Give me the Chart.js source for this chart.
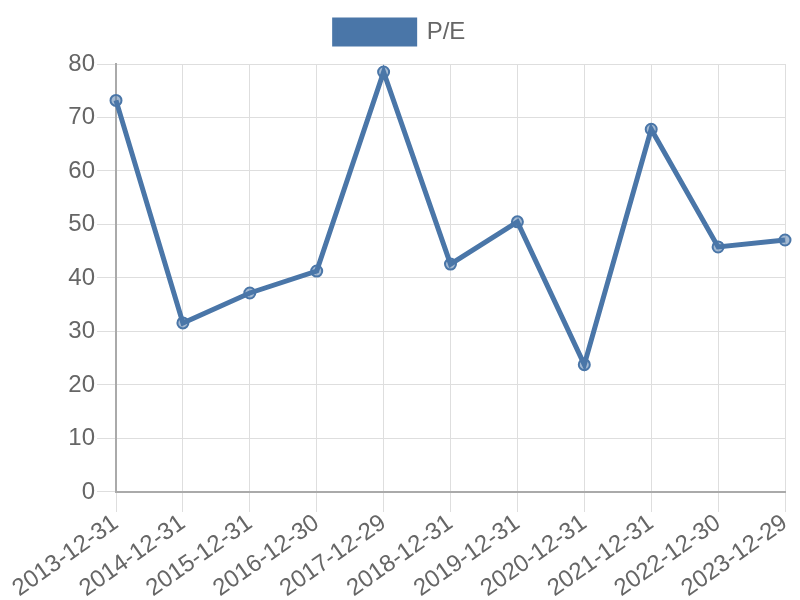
<!DOCTYPE html>
<html>
<head>
<meta charset="utf-8">
<script src="https://cdn.jsdelivr.net/npm/chart.js@4"></script>
<style>
  html, body { margin: 0; padding: 0; background: #fff; }
  #wrap { width: 800px; height: 600px; }
</style>
</head>
<body>
<div id="wrap"><canvas id="peChart"></canvas></div>
<script>
// Dados do gráfico
const labels = ['2013-12-31', '2014-12-31', '2015-12-31', '2016-12-30', '2017-12-29', '2018-12-31',
                '2019-12-31', '2020-12-31', '2021-12-31', '2022-12-30', '2023-12-29'];
const peValues = [73.2, 31.6, 37.2, 41.3, 78.5, 42.6, 50.5, 23.8, 67.8, 45.8, 47.1];
const yTicks = [0, 10, 20, 30, 40, 50, 60, 70, 80];

Chart.defaults.font.family = '"Liberation Sans", Arial, sans-serif';
Chart.defaults.color = '#666';

// Espaço extra abaixo da legenda
const legendGap = {
    id: 'legendGap',
    beforeInit(chart) {
        const origFit = chart.legend.fit;
        chart.legend.fit = function () {
            origFit.bind(chart.legend)();
            this.height += 10;
        };
    }
};

const ctx = document.getElementById('peChart').getContext('2d');
new Chart(ctx, {
    type: 'line',
    data: {
        labels: labels,
        datasets: [{
            label: 'P/E',
            data: peValues,
            borderColor: '#4a76a8',
            backgroundColor: '#4a76a8',
            borderWidth: 5,
            tension: 0,
            fill: false,
            pointRadius: 5.5,
            pointBorderWidth: 2,
            pointBackgroundColor: 'rgba(74, 118, 168, 0.5)',
            pointBorderColor: '#4a76a8'
        }]
    },
    options: {
        responsive: true,
        maintainAspectRatio: false,
        animation: false,
        layout: { padding: { left: 15, right: 15, top: 10, bottom: 0 } },
        plugins: {
            legend: {
                labels: {
                    boxWidth: 80,
                    boxHeight: 24,
                    font: { size: 24 },
                    color: '#666'
                }
            },
            tooltip: { enabled: false }
        },
        scales: {
            x: {
                grid: { color: '#dedede', lineWidth: 1, tickLength: 20 },
                border: { color: '#aaa', width: 2 },
                ticks: { font: { size: 24 }, maxRotation: 35, minRotation: 35, color: '#666', padding: -3 }
            },
            y: {
                min: 0,
                max: 80,
                afterBuildTicks: (axis) => { axis.ticks = yTicks.map(v => ({ value: v })); },
                afterFit: (axis) => { axis.width = 101; },
                grid: { color: '#dedede', lineWidth: 1, tickLength: 19 },
                border: { color: '#aaa', width: 2 },
                ticks: { font: { size: 24 }, color: '#666', padding: 2 }
            }
        }
    },
    plugins: [legendGap]
});
</script>
</body>
</html>
